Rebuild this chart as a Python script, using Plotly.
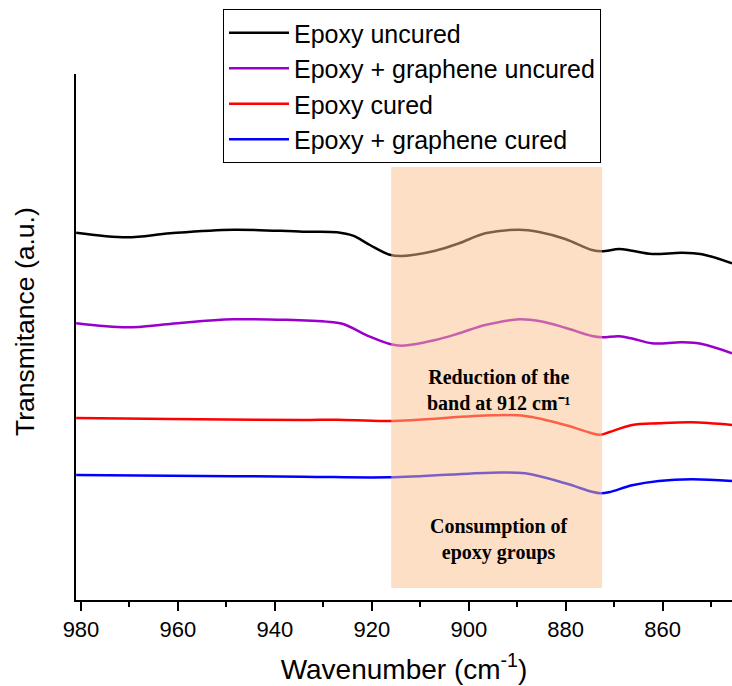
import plotly.graph_objects as go

# Wavenumber (cm-1) and transmittance (a.u.)
wn_epoxy_uncured = [981.0, 970.5, 961.6, 948.6, 934.2, 927.2, 923.9, 920.4, 916.3, 913.8, 906.9, 902.0,
                    896.6, 889.6, 885.5, 880.1, 874.6, 872.5, 869.0, 866.3, 862.2, 856.0, 851.9, 845.7]
t_epoxy_uncured = [3.673, 3.627, 3.667, 3.703, 3.683, 3.677, 3.643, 3.550, 3.453, 3.440, 3.493, 3.567,
                   3.667, 3.703, 3.680, 3.610, 3.500, 3.487, 3.510, 3.493, 3.460, 3.473, 3.457, 3.367]

wn_graphene_uncured = [981.0, 970.5, 961.6, 948.6, 928.6, 925.9, 920.4, 916.3, 913.8, 906.9, 902.0, 896.6,
                       889.6, 885.5, 880.1, 874.6, 872.5, 869.0, 866.3, 862.2, 856.0, 851.9, 845.7]
t_graphene_uncured = [2.767, 2.727, 2.760, 2.807, 2.780, 2.760, 2.633, 2.560, 2.543, 2.600, 2.667, 2.750,
                      2.807, 2.790, 2.723, 2.640, 2.627, 2.637, 2.615, 2.567, 2.577, 2.560, 2.467]

wn_epoxy_cured = [981.0, 961.6, 934.2, 927.2, 916.3, 895.2, 888.4, 880.1, 874.6, 872.9, 871.1, 866.3,
                  860.8, 854.0, 845.7]
t_epoxy_cured = [1.820, 1.810, 1.800, 1.803, 1.790, 1.847, 1.840, 1.750, 1.667, 1.653, 1.677, 1.750,
                 1.767, 1.777, 1.750]

wn_graphene_cured = [981.0, 961.6, 934.2, 916.3, 895.2, 888.4, 880.1, 874.6, 872.9, 871.1, 866.3,
                     860.8, 854.0, 845.7]
t_graphene_cured = [1.250, 1.243, 1.233, 1.227, 1.273, 1.267, 1.167, 1.083, 1.067, 1.077, 1.147,
                    1.190, 1.207, 1.190]

series_names = ["Epoxy uncured", "Epoxy + graphene uncured", "Epoxy cured", "Epoxy + graphene cured"]
series_colors = ["#000000", "#9900CC", "#FF0000", "#0000FF"]

band_x = [916.0, 872.5]
band_y = [0.12, 4.33]
x_range = [981.03, 845.7]
y_range = [0, 5.26]
x_ticks = [980, 960, 940, 920, 900, 880, 860]

fig = go.Figure()
data = [(wn_epoxy_uncured, t_epoxy_uncured), (wn_graphene_uncured, t_graphene_uncured),
        (wn_epoxy_cured, t_epoxy_cured), (wn_graphene_cured, t_graphene_cured)]
for (xs, ys), name, color in zip(data, series_names, series_colors):
    fig.add_trace(go.Scatter(x=xs, y=ys, mode="lines", name=name,
                             line=dict(color=color, width=2.5, shape="spline", smoothing=1.0),
                             cliponaxis=True))

fig.add_shape(type="rect", xref="x", yref="y", x0=band_x[0], x1=band_x[1], y0=band_y[0], y1=band_y[1],
              fillcolor="rgba(250,192,140,0.5)", line=dict(width=0), layer="above")

serif = dict(family="Liberation Serif, Times New Roman, serif", size=20, color="black")
fig.add_annotation(x=893.8, y=2.105, xref="x", yref="y", text="<b>Reduction of the<br>band at 912 cm⁻¹</b>",
                   showarrow=False, font=serif, align="center")
fig.add_annotation(x=893.8, y=0.605, xref="x", yref="y", text="<b>Consumption of<br>epoxy groups</b>",
                   showarrow=False, font=serif, align="center")

fig.add_annotation(x=-76 / 656 + 25 / 656, y=(600 - 322) / 526, xref="paper", yref="paper",
                   text="Transmitance (a.u.)", textangle=-90, showarrow=False,
                   font=dict(family="Liberation Sans, Arial, sans-serif", size=26.5, color="black"),
                   xanchor="center", yanchor="middle")

fig.update_layout(
    width=732, height=686,
    margin=dict(l=76, r=0, t=74, b=86),
    paper_bgcolor="white", plot_bgcolor="white",
    font=dict(family="Liberation Sans, Arial, sans-serif", color="black"),
    showlegend=True,
    legend=dict(x=(223 - 76) / 656, y=(600 - 9) / 526, xanchor="left", yanchor="top",
                bgcolor="white", bordercolor="black", borderwidth=1,
                font=dict(size=25, color="black"), itemwidth=60, tracegroupgap=0),
    xaxis=dict(range=x_range, tickmode="array", tickvals=x_ticks, ticks="outside", ticklen=9,
               tickwidth=1.5, tickcolor="black", showline=True, linecolor="black", linewidth=2,
               showgrid=False, zeroline=False, tickfont=dict(size=22),
               minor=dict(dtick=10, tick0=980, ticks="outside", ticklen=5, tickwidth=1.5, tickcolor="black",
                          showgrid=False),
               title=dict(text="Wavenumber (cm<sup>-1</sup>)", font=dict(size=28), standoff=18)),
    yaxis=dict(range=y_range, showticklabels=False, ticks="", showline=True, linecolor="black",
               linewidth=2, showgrid=False, zeroline=False),
)

fig.write_html("out.html")
